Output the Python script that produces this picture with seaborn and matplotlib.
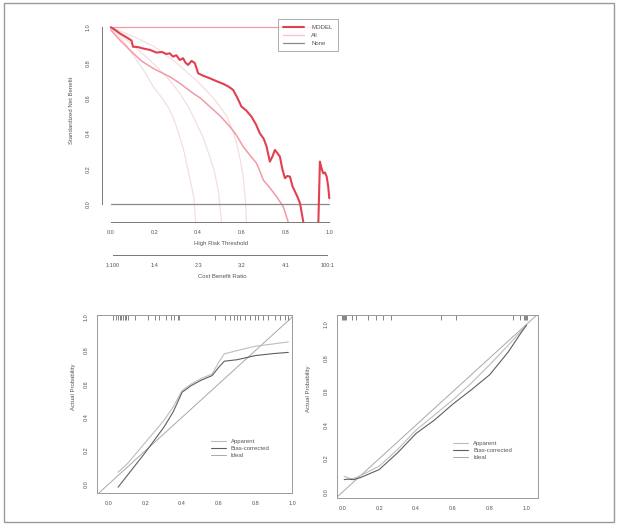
import matplotlib

matplotlib.use("Agg")

import matplotlib.pyplot as plt
from matplotlib.patches import Rectangle
import seaborn as sns

# ---- decision curve (top) ----
model_x = [0.0, 0.02, 0.041, 0.07, 0.095, 0.102, 0.125, 0.148, 0.18, 0.209, 0.235, 0.255,
           0.27, 0.285, 0.3, 0.316, 0.331, 0.342, 0.354, 0.37, 0.385, 0.4, 0.425, 0.453,
           0.485, 0.515, 0.54, 0.56, 0.58, 0.598, 0.62, 0.644, 0.665, 0.682, 0.7, 0.713,
           0.728, 0.74, 0.751, 0.762, 0.774, 0.785, 0.797, 0.808, 0.82, 0.832, 0.843,
           0.855, 0.866, 0.881]
model_y = [1.0, 0.985, 0.966, 0.945, 0.925, 0.89, 0.888, 0.88, 0.872, 0.857, 0.86, 0.849,
           0.853, 0.834, 0.842, 0.815, 0.825, 0.8, 0.787, 0.81, 0.797, 0.74, 0.725, 0.712,
           0.695, 0.68, 0.664, 0.646, 0.6, 0.552, 0.53, 0.495, 0.45, 0.401, 0.37, 0.326,
           0.241, 0.27, 0.307, 0.29, 0.269, 0.2, 0.147, 0.16, 0.156, 0.1, 0.072, 0.04,
           0.006, -0.1]
model_tail_x = [0.95, 0.957, 0.965, 0.972, 0.98, 0.988, 0.995, 1.0]
model_tail_y = [-0.1, 0.241, 0.2, 0.175, 0.18, 0.156, 0.1, 0.034]

pink_x = [0.0, 0.04, 0.087, 0.14, 0.194, 0.23, 0.27, 0.32, 0.377, 0.41, 0.453, 0.5, 0.545,
          0.575, 0.606, 0.635, 0.667, 0.685, 0.698, 0.73, 0.759, 0.789, 0.812]
pink_y = [0.985, 0.93, 0.872, 0.81, 0.768, 0.745, 0.721, 0.68, 0.627, 0.6, 0.552, 0.5, 0.439,
          0.39, 0.326, 0.28, 0.232, 0.18, 0.137, 0.09, 0.043, -0.013, -0.1]

light_a_x = [0.0, 0.06, 0.118, 0.16, 0.194, 0.235, 0.27, 0.295, 0.316, 0.337, 0.354, 0.368,
             0.38, 0.389]
light_a_y = [1.0, 0.92, 0.815, 0.74, 0.665, 0.6, 0.533, 0.46, 0.38, 0.29, 0.19, 0.11,
             0.04, -0.1]
light_b_x = [0.0, 0.1, 0.2, 0.26, 0.316, 0.36, 0.392, 0.425, 0.453, 0.475, 0.492, 0.507]
light_b_y = [1.0, 0.9, 0.79, 0.715, 0.627, 0.54, 0.458, 0.37, 0.269, 0.18, 0.081, -0.1]
light_c_x = [0.0, 0.1, 0.2, 0.3, 0.4, 0.47, 0.53, 0.56, 0.583, 0.596, 0.606, 0.615, 0.621]
light_c_y = [1.0, 0.95, 0.89, 0.8, 0.69, 0.6, 0.5, 0.41, 0.31, 0.23, 0.156, 0.04, -0.1]

threshold_ticks = [0.0, 0.2, 0.4, 0.6, 0.8, 1.0]
ratio_ticks = [0.0099, 0.2, 0.4, 0.6, 0.8, 0.99]
ratio_labels = ["1:100", "1:4", "2:3", "3:2", "4:1", "100:1"]
nb_ticks = [0.0, 0.2, 0.4, 0.6, 0.8, 1.0]

# ---- calibration (bottom left) ----
cal1_x = [0.05, 0.1, 0.2, 0.3, 0.35, 0.4, 0.45, 0.5, 0.564, 0.6, 0.63, 0.7, 0.8, 0.9, 0.98]
cal1_app = [0.07, 0.12, 0.25, 0.38, 0.46, 0.56, 0.6, 0.63, 0.66, 0.73, 0.78, 0.8, 0.826,
            0.84, 0.852]
cal1_bc = [-0.02, 0.05, 0.19, 0.34, 0.43, 0.55, 0.59, 0.62, 0.65, 0.7, 0.736, 0.745, 0.77,
           0.782, 0.789]
rug1 = [0.023, 0.041, 0.05, 0.059, 0.068, 0.077, 0.086, 0.095, 0.104, 0.14, 0.212, 0.249,
        0.276, 0.312, 0.339, 0.357, 0.375, 0.384, 0.582, 0.636, 0.663, 0.681, 0.699, 0.717,
        0.744, 0.771, 0.798, 0.816, 0.843, 0.87, 0.906, 0.933, 0.96, 0.978]

# ---- calibration (bottom right) ----
cal2_x = [0.01, 0.03, 0.06, 0.1, 0.2, 0.3, 0.4, 0.5, 0.6, 0.7, 0.8, 0.9, 0.97, 1.0]
cal2_app = [0.095, 0.085, 0.08, 0.1, 0.155, 0.255, 0.37, 0.46, 0.55, 0.65, 0.76, 0.875,
            0.96, 1.0]
cal2_bc = [0.075, 0.078, 0.075, 0.088, 0.135, 0.235, 0.35, 0.43, 0.525, 0.61, 0.7, 0.835,
           0.95, 0.995]
rug2 = [0.0, 0.004, 0.009, 0.013, 0.018, 0.05, 0.076, 0.138, 0.183, 0.218, 0.262, 0.537,
        0.617, 0.927, 0.963, 0.985, 0.99, 0.995, 1.0]

prob_ticks = [0.0, 0.2, 0.4, 0.6, 0.8, 1.0]

TXT = "#555555"
AX = "#777777"
RED = "#e2404f"
PINK = "#f29aa6"
LIGHT = "#f3dfe2"


def fmt(v):
    return f"{v:.1f}"


def style_ticks(ax, size=4):
    ax.tick_params(axis="both", colors=AX, labelcolor=TXT, labelsize=size,
                   length=3, width=0.6, direction="out")


def draw_dca(fig):
    ax = fig.add_axes([0.165, 0.578, 0.382, 0.385])
    for lx, ly in [(light_a_x, light_a_y), (light_b_x, light_b_y), (light_c_x, light_c_y)]:
        sns.lineplot(x=lx, y=ly, color=LIGHT, lw=0.9, sort=False, estimator=None, ax=ax)
    sns.lineplot(x=[0.0, 1.0], y=[1.0, 1.0], color=PINK, lw=0.9, ax=ax)
    sns.lineplot(x=pink_x, y=pink_y, color=PINK, lw=1.1, sort=False, estimator=None, ax=ax)
    sns.lineplot(x=[0.0, 1.0], y=[0.0, 0.0], color="#8a8a8a", lw=0.9, ax=ax)
    sns.lineplot(x=model_x, y=model_y, color=RED, lw=1.5, sort=False, estimator=None, ax=ax)
    sns.lineplot(x=model_tail_x, y=model_tail_y, color=RED, lw=1.5, sort=False,
                 estimator=None, ax=ax)
    ax.set_xlim(-0.04, 1.04)
    ax.set_ylim(-0.1, 1.044)
    for side in ["top", "right"]:
        ax.spines[side].set_visible(False)
    ax.spines["left"].set_bounds(0, 1)
    ax.spines["bottom"].set_bounds(0, 1)
    for side in ["left", "bottom"]:
        ax.spines[side].set_color(AX)
        ax.spines[side].set_linewidth(0.7)
    ax.set_xticks(threshold_ticks)
    ax.set_xticklabels([fmt(v) for v in threshold_ticks])
    ax.set_yticks(nb_ticks)
    ax.set_yticklabels([fmt(v) for v in nb_ticks], rotation=90, va="center")
    style_ticks(ax)
    ax.tick_params(axis="y", pad=5)
    ax.tick_params(axis="x", pad=3)
    ax.set_ylabel("Standardized Net Benefit", fontsize=4.3, color=TXT)
    ax.yaxis.set_label_coords(-0.12, 0.55)

    handles = [
        plt.Line2D([], [], color=RED, lw=1.5),
        plt.Line2D([], [], color="#f5c4cb", lw=1.0),
        plt.Line2D([], [], color="#8a8a8a", lw=0.9),
    ]
    leg = ax.legend(handles, ["MODEL", "All", "None"], loc="upper right", fontsize=4.3,
                    frameon=True, fancybox=False, handlelength=3.4, borderpad=0.9,
                    labelspacing=0.45, handletextpad=1.3, borderaxespad=0.0)
    leg.get_frame().set_edgecolor("#888888")
    leg.get_frame().set_linewidth(0.6)
    for t in leg.get_texts():
        t.set_color(TXT)

    # cost:benefit ratio axis
    ax2 = fig.add_axes([0.165, 0.5152, 0.382, 0.0001])
    ax2.set_xlim(-0.04, 1.04)
    ax2.set_yticks([])
    for side in ["top", "right", "left"]:
        ax2.spines[side].set_visible(False)
    ax2.spines["bottom"].set_bounds(ratio_ticks[0], ratio_ticks[-1])
    ax2.spines["bottom"].set_color(AX)
    ax2.spines["bottom"].set_linewidth(0.7)
    ax2.patch.set_alpha(0)
    ax2.set_xticks(ratio_ticks)
    ax2.set_xticklabels(ratio_labels)
    style_ticks(ax2)
    ax2.tick_params(axis="x", pad=3)

    fig.text(221 / 618, 1 - 243 / 526, "High Risk Threshold", ha="center", va="center",
             fontsize=4.3, color=TXT)
    fig.text(222 / 618, 1 - 276 / 526, "Cost Benefit Ratio", ha="center", va="center",
             fontsize=4.3, color=TXT)


def draw_cal(fig, rect, xs, app, bc, rug, xlim, ylim, leg_xy, label_x):
    ax = fig.add_axes(rect)
    sns.lineplot(x=[-0.2, 1.2], y=[-0.2, 1.2], color="#a8a8a8", lw=0.7, ax=ax)
    sns.lineplot(x=xs, y=app, color="#bdbdbd", lw=0.8, sort=False, estimator=None, ax=ax)
    sns.lineplot(x=xs, y=bc, color="#5f5f5f", lw=0.8, sort=False, estimator=None, ax=ax)
    ax.vlines(rug, 0.975, 1.0, color="#555555", lw=0.5, transform=ax.get_xaxis_transform())
    ax.set_xlim(*xlim)
    ax.set_ylim(*ylim)
    for side in ax.spines.values():
        side.set_color("#9a9a9a")
        side.set_linewidth(0.7)
    ax.set_xticks(prob_ticks)
    ax.set_xticklabels([fmt(v) for v in prob_ticks])
    ax.set_yticks(prob_ticks)
    ax.set_yticklabels([fmt(v) for v in prob_ticks], rotation=90, va="center")
    style_ticks(ax)
    ax.tick_params(axis="both", pad=3)
    ax.set_ylabel("Actual Probability", fontsize=4.3, color=TXT)
    ax.yaxis.set_label_coords(label_x, 0.6)
    handles = [
        plt.Line2D([], [], color="#bdbdbd", lw=0.8),
        plt.Line2D([], [], color="#5f5f5f", lw=0.8),
        plt.Line2D([], [], color="#a8a8a8", lw=0.7),
    ]
    leg = ax.legend(handles, ["Apparent", "Bias-corrected", "Ideal"], loc="center left",
                    bbox_to_anchor=leg_xy, bbox_transform=ax.transData, fontsize=4.3,
                    frameon=False, handlelength=2.6, labelspacing=0.3, handletextpad=0.8,
                    borderpad=0.0, borderaxespad=0.0)
    for t in leg.get_texts():
        t.set_color(TXT)
    return ax


def main():
    sns.set_theme(style="white")
    plt.rcParams["font.family"] = ["Liberation Sans", "DejaVu Sans"]
    fig = plt.figure(figsize=(6.18, 5.26), dpi=100)

    draw_dca(fig)
    draw_cal(fig, [0.157, 0.0627, 0.3155, 0.338], cal1_x, cal1_app, cal1_bc, rug1,
             (-0.065, 1.0), (-0.055, 1.012), (0.555, 0.21), -0.11)
    draw_cal(fig, [0.545, 0.053, 0.325, 0.348], cal2_x, cal2_app, cal2_bc, rug2,
             (-0.03, 1.06), (-0.035, 1.055), (0.60, 0.247), -0.13)

    fig.add_artist(Rectangle((4 / 618, 1 - 522 / 526), 610 / 618, 519 / 526,
                             transform=fig.transFigure, fill=False,
                             edgecolor="#9a9a9a", lw=1.0))
    fig.savefig("out.png", dpi=100)
    plt.close(fig)


if __name__ == "__main__":
    main()
